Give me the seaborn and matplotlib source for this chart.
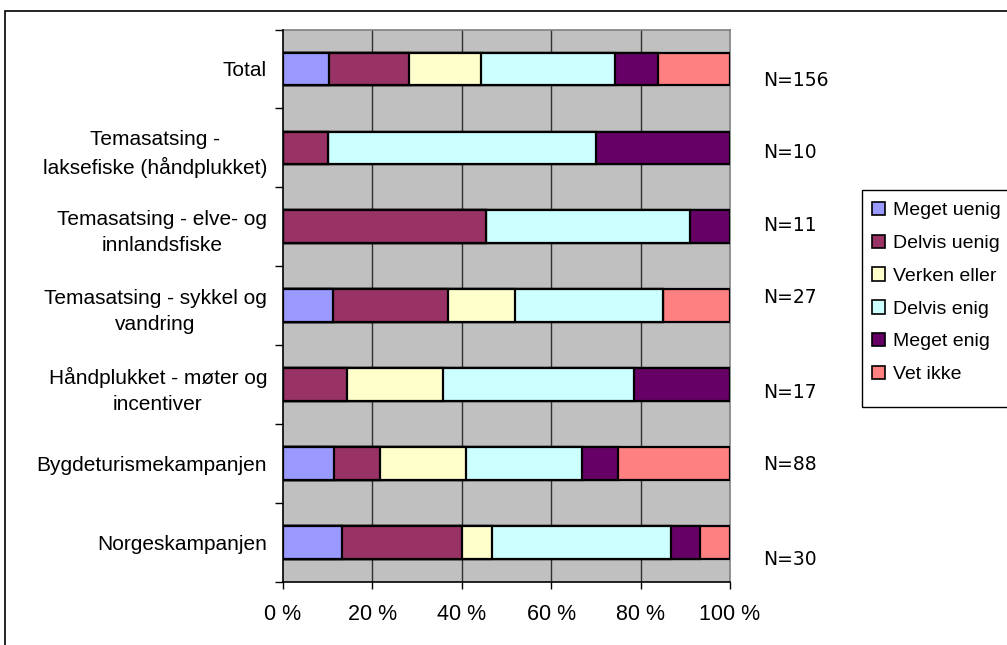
import numpy as np
import pandas as pd
import matplotlib
matplotlib.use("Agg")
import matplotlib.pyplot as plt
from matplotlib.patches import Patch, Rectangle
import seaborn as sns

# ---------------- data ----------------
categories = [
    "Total",
    "Temasatsing -\nlaksefiske (håndplukket)",
    "Temasatsing - elve- og\ninnlandsfiske",
    "Temasatsing - sykkel og\nvandring",
    "Håndplukket - møter og\nincentiver",
    "Bygdeturismekampanjen",
    "Norgeskampanjen",
]
series_names = ["Meget uenig", "Delvis uenig", "Verken eller", "Delvis enig", "Meget enig", "Vet ikke"]
meget_uenig  = [10.3,  0.0,  0.0, 11.1,  0.0, 11.4, 13.3]
delvis_uenig = [17.9, 10.0, 45.5, 25.9, 14.3, 10.2, 26.7]
verken       = [16.0,  0.0,  0.0, 14.8, 21.4, 19.3,  6.7]
delvis_enig  = [30.1, 60.0, 45.5, 33.3, 42.9, 26.1, 40.0]
meget_enig   = [ 9.6, 30.0,  9.0,  0.0, 21.4,  8.0,  6.6]
vet_ikke     = [16.1,  0.0,  0.0, 14.9,  0.0, 25.0,  6.7]
n_labels = ["N=156", "N=10", "N=11", "N=27", "N=17", "N=88", "N=30"]
x_ticks = [0, 20, 40, 60, 80, 100]
x_ticklabels = ["0 %", "20 %", "40 %", "60 %", "80 %", "100 %"]

# ---------------- style ----------------
colors = ["#9999FF", "#993366", "#FFFFCC", "#CCFFFF", "#660066", "#FF8080"]
n_label_dy = [0.15, 0.06, -0.02, -0.11, 0.10, 0.01, 0.22]

sns.set_style("white")
plt.rcParams["font.family"] = ["Liberation Sans", "DejaVu Sans"]
plt.rcParams["text.color"] = "black"
plt.rcParams["xtick.color"] = "black"
plt.rcParams["ytick.color"] = "black"
plt.rcParams["axes.labelcolor"] = "black"

fig = plt.figure(figsize=(10.07, 6.45), dpi=100)
ax = fig.add_axes([283 / 1007, 1 - 582 / 645, (730 - 283) / 1007, (582 - 29.5) / 645])
ax.set_facecolor("#C0C0C0")

values = [meget_uenig, delvis_uenig, verken, delvis_enig, meget_enig, vet_ikke]
df = pd.DataFrame({name: v for name, v in zip(series_names, values)})
df["cat"] = categories
cum = df[series_names].cumsum(axis=1)

# draw from the last (longest) cumulative series to the first
for name, col in reversed(list(zip(series_names, colors))):
    sns.barplot(x=cum[name], y=df["cat"], orient="h", color=col, ax=ax,
                edgecolor="black", linewidth=1.6, width=0.415, saturation=1,
                zorder=3, order=categories)

ax.set_xlim(0, 100)
ax.set_ylim(6.5, -0.5)
ax.set_xlabel("")
ax.set_ylabel("")

# gridlines
for xv in x_ticks[1:-1]:
    ax.axvline(xv, color="#303030", lw=1.0, zorder=1)

ax.set_xticks(x_ticks)
ax.set_xticklabels(x_ticklabels, fontsize=15.5, color="black")
ax.tick_params(axis="x", direction="out", length=5, width=1, color="black", pad=11, bottom=True)

ax.set_yticks(range(len(categories)))
ax.set_yticklabels(categories, fontsize=15, linespacing=1.5, color="black")
for lbl in ax.get_yticklabels():
    lbl.set_multialignment("center")
ax.tick_params(axis="y", which="major", length=0, pad=11.5)
ax.set_yticks(np.arange(-0.5, len(categories), 1.0), minor=True)
ax.tick_params(axis="y", which="minor", direction="out", length=6, width=1, color="black", left=True)

for side in ["left", "bottom"]:
    ax.spines[side].set_color("black")
    ax.spines[side].set_linewidth(1.2)
for side in ["top", "right"]:
    ax.spines[side].set_color("#808080")
    ax.spines[side].set_linewidth(1.2)
ax.spines["left"].set_zorder(5)

# N labels
for i, (lab, dy) in enumerate(zip(n_labels, n_label_dy)):
    ax.text(107.5, i + dy, lab, ha="left", va="center", fontsize=13.5,
            family=["DejaVu Sans"], color="black", clip_on=False)

# legend (entries without frame, box drawn separately like the Excel legend)
handles = [Patch(facecolor=c, edgecolor="black", linewidth=1.2) for c in colors]
leg = fig.legend(handles, series_names, loc="upper left",
                 bbox_to_anchor=(862 / 1007, 1 - 192 / 645), fontsize=14,
                 frameon=False,
                 handlelength=0.7, handleheight=0.7, handletextpad=0.4,
                 labelspacing=0.78, borderpad=0.5, borderaxespad=0)
for t in leg.get_texts():
    t.set_color("black")
fig.patches.append(Rectangle((862 / 1007, 1 - 407 / 645), 0.2, (407 - 190) / 645,
                             transform=fig.transFigure, fill=False,
                             edgecolor="black", lw=1.0))

# outer chart-area border
fig.patches.append(Rectangle((5 / 1007, -0.1), 1.2, 1.1 - 11 / 645,
                             transform=fig.transFigure, fill=False,
                             edgecolor="black", lw=1.2))

fig.savefig("out.png", dpi=100)
